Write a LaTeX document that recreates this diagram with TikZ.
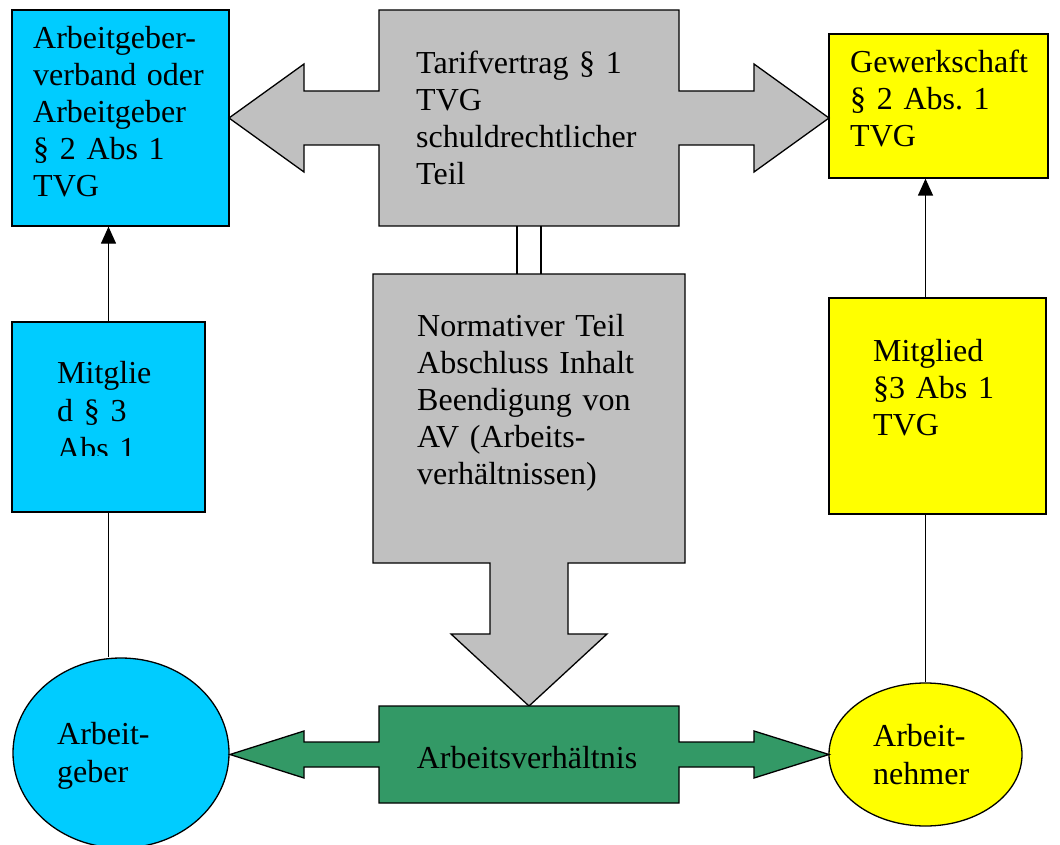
\documentclass[tikz,border=0pt]{standalone}
\usepackage{fontspec}
\setmainfont{Liberation Serif}
\usetikzlibrary{arrows.meta,shapes.geometric}
\definecolor{cblue}{HTML}{00CCFF}
\definecolor{cyell}{HTML}{FFFF00}
\definecolor{cgray}{HTML}{C0C0C0}
\definecolor{cgreen}{HTML}{339966}
\frenchspacing
\begin{document}
\begin{tikzpicture}[x=1pt,y=-1pt,
  outl/.style={draw=black, line width=1.3pt, line join=miter},
  boxn/.style={outl, rectangle, inner sep=0pt},
  ghost/.style={rectangle, inner sep=0pt},
  ell/.style={outl, ellipse, inner sep=0pt},
  txt/.style={anchor=base west, inner sep=0pt, text width=280pt, align=left,
    font=\fontsize{32}{37}\selectfont},
  link/.style={draw=black, line width=1.3pt},
  tip/.style={-{Triangle[length=17pt,width=15pt]}}]
\useasboundingbox (0,0) rectangle (1060,845);
% boxes
\node[boxn, fill=cblue, minimum width=217pt, minimum height=216pt] (agv) at (120.5,118) {};
\node[boxn, fill=cyell, minimum width=219pt, minimum height=144pt] (gew) at (938.5,106) {};
\node[boxn, fill=cblue, minimum width=193pt, minimum height=190pt] (mgA) at (108.5,417) {};
\node[boxn, fill=cyell, minimum width=217pt, minimum height=216pt] (mgB) at (937.5,406) {};
\node[ell, fill=cblue, minimum width=216pt, minimum height=190pt] (ag) at (121,753) {};
\node[ell, fill=cyell, minimum width=193pt, minimum height=143pt] (an) at (925.5,754.5) {};
% callout shapes
\node[ghost, minimum width=300pt, minimum height=216pt] (tarif) at (529,118) {};
\node[ghost, minimum width=312pt, minimum height=289pt] (norm) at (529,418.5) {};
\node[ghost, minimum width=300pt, minimum height=97pt] (av) at (529,754.5) {};
\path[outl, fill=cgray] (379,10) -- (679,10) -- (679,91) -- (754,91) -- (754,64) -- (829,118)
  -- (754,172) -- (754,145) -- (679,145) -- (679,226) -- (379,226) -- (379,145) -- (304,145)
  -- (304,172) -- (229,118) -- (304,64) -- (304,91) -- (379,91) -- cycle;
\path[outl, fill=cgray] (373,274) -- (685,274) -- (685,563) -- (568,563) -- (568,634) -- (607,634)
  -- (529,706) -- (451,634) -- (490,634) -- (490,563) -- (373,563) -- cycle;
\path[outl, fill=cgreen] (379,706) -- (679,706) -- (679,742) -- (754,742) -- (754,731) -- (829,754.5)
  -- (754,778) -- (754,767) -- (679,767) -- (679,803) -- (379,803) -- (379,767) -- (304,767)
  -- (304,778) -- (230,754.5) -- (304,731) -- (304,742) -- (379,742) -- cycle;
% connectors
\draw[link] ([xshift=-12pt]tarif.south) -- ([xshift=-12pt]norm.north);
\draw[link] ([xshift=12pt]tarif.south) -- ([xshift=12pt]norm.north);
\draw[link, tip] (mgA.north) -- (mgA.north |- agv.south);
\draw[link] (mgA.south) -- (mgA.south |- ag.north);
\draw[link, tip] (mgB.north -| an.north) -- (gew.south -| an.north);
\draw[link] (an.north) -- (an.north |- mgB.south);
% texts
\node[txt] (tagv) at (33,49) {Arbeitgeber-\\verband oder\\Arbeitgeber\\§ 2 Abs 1\\TVG};
\node[txt] (ttarif) at (416,73.5) {Tarifvertrag § 1\\TVG\\schuldrechtlicher\\Teil};
\node[txt] (tgew) at (850,73) {Gewerkschaft\\§ 2 Abs. 1\\TVG};
\node[txt] (tnorm) at (417,336) {Normativer Teil\\Abschluss Inhalt\\Beendigung von\\AV (Arbeits-\\verhältnissen)};
\begin{scope}
\clip (12,322) rectangle (205,455);
\node[txt, font=\fontsize{32}{38}\selectfont] (tmgA) at (57,383) {Mitglie\\d § 3\\Abs 1};
\end{scope}
\node[txt] (tmgB) at (873,361) {Mitglied\\§3 Abs 1\\TVG};
\node[txt, font=\fontsize{32}{38}\selectfont] (tag) at (57,744) {Arbeit-\\geber};
\node[txt, font=\fontsize{32}{38}\selectfont] (tan) at (873,746) {Arbeit-\\nehmer};
\node[anchor=base, inner sep=0pt, font=\fontsize{32}{37}\selectfont] (tav) at (527,768) {Arbeitsverhältnis};
\end{tikzpicture}
\end{document}
